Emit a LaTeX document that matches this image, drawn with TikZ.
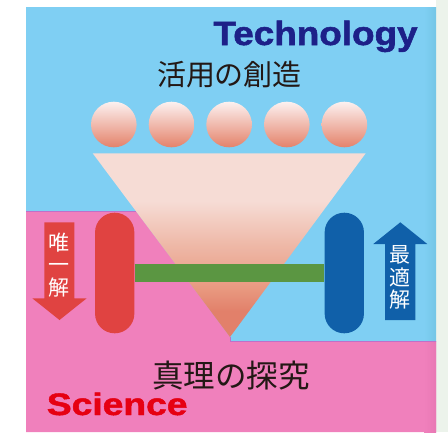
\documentclass[tikz,border=0pt]{standalone}
\usepackage{fontspec}
\setmainfont{Liberation Sans}
\newfontfamily\cjk{Noto Sans CJK JP}
\newfontfamily\heavyfont[FakeBold=1.5]{Liberation Sans}
\definecolor{panelblue}{HTML}{7FCFF3}
\definecolor{panelblueD}{HTML}{74C6E6}
\definecolor{scipink}{HTML}{F080BC}
\definecolor{scipinkD}{HTML}{E878B4}
\definecolor{edgeviolet}{HTML}{C070C8}
\definecolor{stripc}{HTML}{ECF3EB}
\definecolor{technavy}{HTML}{1D2088}
\definecolor{scired}{HTML}{E60012}
\definecolor{capred}{HTML}{E04341}
\definecolor{capblue}{HTML}{1060A9}
\definecolor{bargreen}{HTML}{5B9642}
\definecolor{circT}{HTML}{FCF1F0}
\definecolor{circB}{HTML}{E4826A}
\definecolor{triT}{HTML}{F6DCD5}
\definecolor{triM}{HTML}{EEB8A7}
\definecolor{triL}{HTML}{E8987F}
\definecolor{triB}{HTML}{E2806A}
\definecolor{txtdark}{HTML}{231815}
\pgfdeclareverticalshading{trishade}{100bp}{color(0bp)=(triB); color(25bp)=(triB); color(32bp)=(triB); color(38bp)=(triL); color(50bp)=(triM); color(62bp)=(triT); color(75bp)=(triT); color(100bp)=(triT)}
\tikzset{
  ball/.style={circle, minimum size=45.6pt, inner sep=0pt, top color=circT, bottom color=circB, draw=none},
  capsule/.style={rectangle, minimum width=39.3pt, minimum height=120.6pt, rounded corners=19.6pt, inner sep=0pt, draw=none},
  bigjp/.style={font=\cjk\fontsize{29}{29}\selectfont, text=txtdark, inner sep=0pt},
  vertjp/.style={font=\cjk\fontsize{21}{22.4}\selectfont, text=white, align=center, inner sep=0pt},
}
\begin{document}
\begin{tikzpicture}[x=1pt,y=-1pt]
\useasboundingbox (0,0) rectangle (448,432);
\fill[white] (0,0) rectangle (448,432);
\fill[stripc] (436,0) rectangle (448,432);
% panels
\fill[panelblue] (26,7) rectangle (436,432);
\fill[scipink] (26,211) -- (135.8,211) -- (230,337) -- (230,341) -- (436,341) -- (436,432) -- (26,432) -- cycle;
\shade[left color=panelblue, right color=panelblueD] (424,7) rectangle (436,341);
\shade[left color=scipink, right color=scipinkD] (424,341) rectangle (436,432);
\draw[edgeviolet, line width=0.8pt] (26,211) -- (135.8,211);
\draw[edgeviolet, line width=0.8pt] (230,337) -- (230,341) -- (436,341);
% funnel
\shade[shading=trishade] (92.7,153.3) -- (365.7,153.3) -- (230,337) -- cycle;
% balls
\node[ball] (b1) at (113.8,124.5) {};
\node[ball] (b2) at (171.5,124.5) {};
\node[ball] (b3) at (229.1,124.5) {};
\node[ball] (b4) at (286.8,124.5) {};
\node[ball] (b5) at (344.4,124.5) {};
% capsules and bar
\node[capsule, fill=capred] (cr) at (114.7,273) {};
\node[capsule, fill=capblue] (cb) at (344.3,273) {};
\draw[bargreen, line width=17.7pt] (cr.east) -- (cb.west);
% arrows
\fill[capred] (44.3,222.3) -- (74.3,222.3) -- (74.3,298.3) -- (86.7,298.3) -- (59.5,320) -- (32.3,298.3) -- (44.3,298.3) -- cycle;
\fill[capblue] (385,320) -- (415.3,320) -- (415.3,244) -- (427.3,244) -- (400.3,222.3) -- (373.3,244) -- (385,244) -- cycle;
\node[vertjp] (yuiitsu) at (59.3,264.9) {唯\\一\\解};
\node[vertjp] (saiteki) at (400.2,277.5) {最\\適\\解};
% texts
\node[font=\heavyfont\bfseries\fontsize{33.5}{33.5}\selectfont, text=technavy, anchor=base west, inner sep=0pt] (tech) at (213.3,45) {\scalebox{1.1}[1]{Technology}};
\node[bigjp] (katsuyou) at (229.5,75) {活用の創造};
\node[bigjp, font=\cjk\fontsize{31.5}{31.5}\selectfont] (shinri) at (231,376) {真理の探究};
\node[font=\heavyfont\bfseries\fontsize{31}{31}\selectfont, text=scired, anchor=base west, inner sep=0pt] (sci) at (46.7,415) {\scalebox{1.2}[1]{Science}};
\end{tikzpicture}
\end{document}
